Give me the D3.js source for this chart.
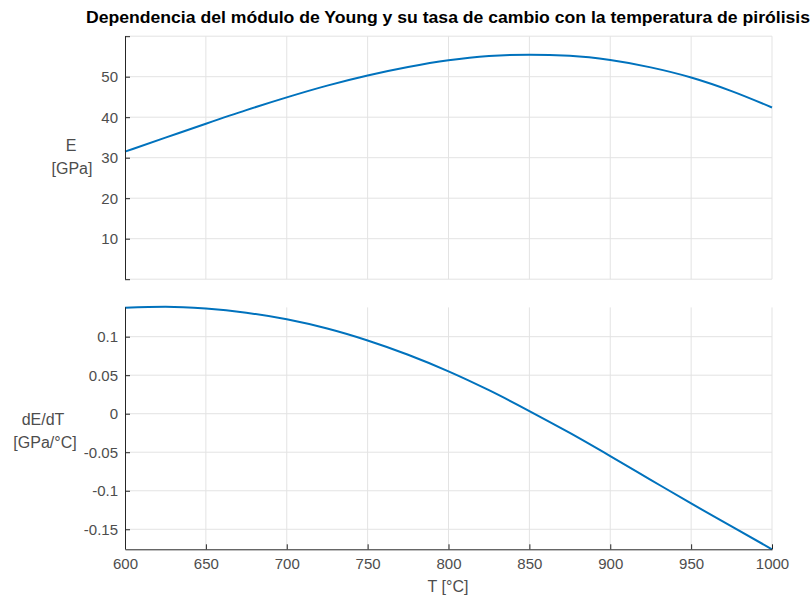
<!DOCTYPE html>
<html>
<head>
<meta charset="utf-8">
<script src="https://cdn.jsdelivr.net/npm/d3@7"></script>
<style>
  html, body { margin: 0; padding: 0; background: #fff; }
  svg { display: block; font-family: "Liberation Sans", Arial, Helvetica, sans-serif; }
</style>
</head>
<body>
<svg id="chart" width="812" height="596"></svg>
<script>
// Pyrolysis temperature (°C)
const temperature = [600, 625, 650, 675, 700, 725, 750, 775, 800, 825, 850, 875, 900, 925, 950, 975, 1000];
// Young's modulus E (GPa)
const modulus = [31.5, 34.95, 38.4, 41.75, 44.9, 47.8, 50.3, 52.4, 54.05, 55.1, 55.45, 55.15, 54.1, 52.3, 49.8, 46.45, 42.4];
// Rate of change dE/dT (GPa/°C)
const rate = [0.1376, 0.139, 0.1365, 0.131, 0.1225, 0.1105, 0.095, 0.0765, 0.055, 0.0305, 0.0035, -0.025, -0.055, -0.0858, -0.1165, -0.1463, -0.176];

const xTicks = [600, 650, 700, 750, 800, 850, 900, 950, 1000];
const eTicks = [0, 10, 20, 30, 40, 50, 60];
const eLabels = [10, 20, 30, 40, 50];
const rTicks = [-0.15, -0.1, -0.05, 0, 0.05, 0.1];

const titleText = "Dependencia del módulo de Young y su tasa de cambio con la temperatura de pirólisis";

const svg = d3.select("#chart");
const axisColor = "#262626";
const tickTextColor = "#4d4d4d";
const gridColor = "#e3e3e3";
const lineColor = "#0072BD";
const fontSize = 15;
const labelSize = 16;

const x = d3.scaleLinear().domain([600, 1000]).range([125, 772]);
const yE = d3.scaleLinear().domain([0, 60]).range([279.2, 36.2]);
const yR = d3.scaleLinear().domain([-0.176, 0.138]).range([549.3, 307.4]);

function fmt(v) { return String(+v.toFixed(2)); }

function panel(y, yTicks, labeled, data, showXAxis) {
  const g = svg.append("g");
  const [y0, y1] = y.range();
  // vertical grid
  g.selectAll(".vg").data(xTicks.slice(1)).join("line")
    .attr("x1", d => x(d)).attr("x2", d => x(d))
    .attr("y1", y1).attr("y2", y0)
    .attr("stroke", gridColor).attr("stroke-width", 1);
  // horizontal grid
  g.selectAll(".hg").data(yTicks).join("line")
    .attr("x1", x.range()[0]).attr("x2", x.range()[1])
    .attr("y1", d => y(d)).attr("y2", d => y(d))
    .attr("stroke", gridColor).attr("stroke-width", 1);
  // curve
  const line = d3.line().x((d, i) => x(temperature[i])).y(d => y(d)).curve(d3.curveMonotoneX);
  g.append("path").datum(data).attr("d", line)
    .attr("fill", "none").attr("stroke", lineColor).attr("stroke-width", 2);
  // left axis
  const yAxis = d3.axisLeft(y).tickValues(yTicks).tickSizeInner(-5).tickSizeOuter(0)
    .tickFormat(d => labeled.includes(d) ? fmt(d) : "");
  const ya = g.append("g").attr("transform", `translate(${x.range()[0]},0)`).call(yAxis);
  ya.select(".domain").attr("stroke", axisColor).attr("d", `M0.5,${y1}V${y0}`);
  ya.selectAll(".tick line").attr("stroke", axisColor);
  ya.selectAll(".tick text").attr("x", -7).attr("fill", tickTextColor)
    .attr("font-size", fontSize).attr("font-family", null);
  if (showXAxis) {
    const xAxis = d3.axisBottom(x).tickValues(xTicks).tickSizeInner(-5).tickSizeOuter(0)
      .tickFormat(d3.format("d"));
    const xa = g.append("g").attr("transform", `translate(0,${y0})`).call(xAxis);
    xa.select(".domain").attr("stroke", axisColor);
    xa.selectAll(".tick line").attr("stroke", axisColor);
    xa.selectAll(".tick text").attr("y", 9).attr("fill", tickTextColor)
      .attr("font-size", fontSize).attr("font-family", null);
  }
  return g;
}

panel(yE, eTicks, eLabels, modulus, false);
panel(yR, rTicks, rTicks, rate, true);

// Title
svg.append("text").attr("x", 448).attr("y", 23).attr("text-anchor", "middle")
  .attr("font-weight", "bold").attr("font-size", 16).attr("fill", "#000")
  .attr("textLength", 724).attr("lengthAdjust", "spacingAndGlyphs")
  .text(titleText);

// Y labels
const eLab = svg.append("text").attr("text-anchor", "middle").attr("fill", tickTextColor).attr("font-size", labelSize);
eLab.append("tspan").attr("x", 71).attr("y", 151).text("E");
eLab.append("tspan").attr("x", 72).attr("y", 174).text("[GPa]");

const rLab = svg.append("text").attr("text-anchor", "middle").attr("fill", tickTextColor).attr("font-size", labelSize);
rLab.append("tspan").attr("x", 43).attr("y", 425).text("dE/dT");
rLab.append("tspan").attr("x", 45).attr("y", 448).text("[GPa/°C]");

// X label
svg.append("text").attr("x", 448).attr("y", 592).attr("text-anchor", "middle")
  .attr("fill", tickTextColor).attr("font-size", labelSize).text("T [°C]");
</script>
</body>
</html>
